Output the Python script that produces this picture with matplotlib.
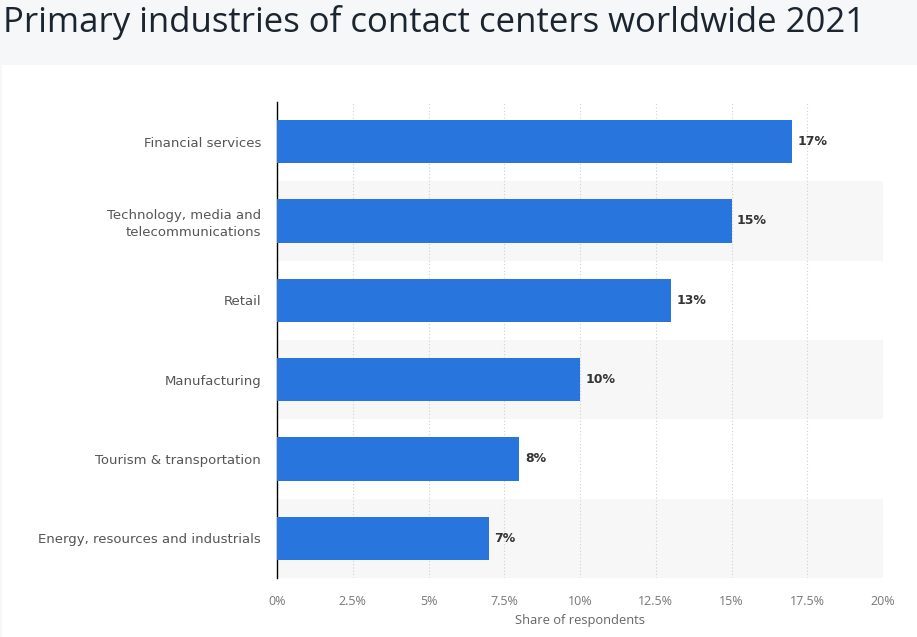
import matplotlib
matplotlib.use("Agg")
import matplotlib.pyplot as plt
from matplotlib.patches import Rectangle

title = "Primary industries of contact centers worldwide 2021"
categories = ["Financial services", "Technology, media and\ntelecommunications", "Retail",
              "Manufacturing", "Tourism & transportation", "Energy, resources and industrials"]
values = [17, 15, 13, 10, 8, 7]
xticks = [0, 2.5, 5, 7.5, 10, 12.5, 15, 17.5, 20]
xtick_labels = ["0%", "2.5%", "5%", "7.5%", "10%", "12.5%", "15%", "17.5%", "20%"]
xlabel = "Share of respondents"

W, H = 917, 637
fig = plt.figure(figsize=(W / 100, H / 100), dpi=100)
fig.patch.set_facecolor("#f6f7f8")
# white card
card = Rectangle((2 / W, 0), 1, 1 - 65 / H, transform=fig.transFigure,
                 facecolor="white", edgecolor="none", zorder=-10)
fig.add_artist(card)

fig.text(3 / W, 1 - 32 / H, title, fontsize=25, family="Open Sans", color="#1b2530",
         va="baseline", ha="left")

ax = fig.add_axes([277 / W, 1 - 578 / H, (883 - 277) / W, (578 - 102) / H])
ax.set_zorder(5)
ax.set_facecolor("none")
ypos = list(range(len(categories)))
for i in ypos:
    if i % 2 == 1:
        ax.axhspan(i - 0.5, i + 0.5, facecolor="#f7f7f7", edgecolor="none", zorder=0)
ax.barh(ypos, values, height=0.55, color="#2876dd", zorder=3)
for y, v in zip(ypos, values):
    ax.text(v + 0.18, y, f"{v}%", va="center", ha="left", fontsize=9, fontweight="bold",
            color="#333333", zorder=4)

ax.set_xlim(0, 20)
ax.set_ylim(len(categories) - 0.5, -0.5)
ax.set_yticks(ypos)
ax.set_yticklabels(categories, fontsize=9.5, color="#555555", linespacing=1.3)
ax.set_xticks(xticks)
ax.set_xticklabels(xtick_labels, fontsize=9, color="#777777", family="Open Sans")
ax.tick_params(axis="both", length=0)
ax.tick_params(axis="x", pad=12.5)
ax.tick_params(axis="y", pad=11.5)
ax.grid(axis="x", linestyle=(0, (1, 2)), color="#d0d0d0", linewidth=0.8, zorder=1)
ax.set_axisbelow(True)
for s in ["top", "right", "bottom"]:
    ax.spines[s].set_visible(False)
ax.spines["left"].set_color("#000000")
ax.spines["left"].set_linewidth(1)
ax.set_xlabel(xlabel, fontsize=9.3, color="#666666", family="Open Sans", labelpad=4)

fig.savefig("out.png", dpi=100, facecolor=fig.get_facecolor())
